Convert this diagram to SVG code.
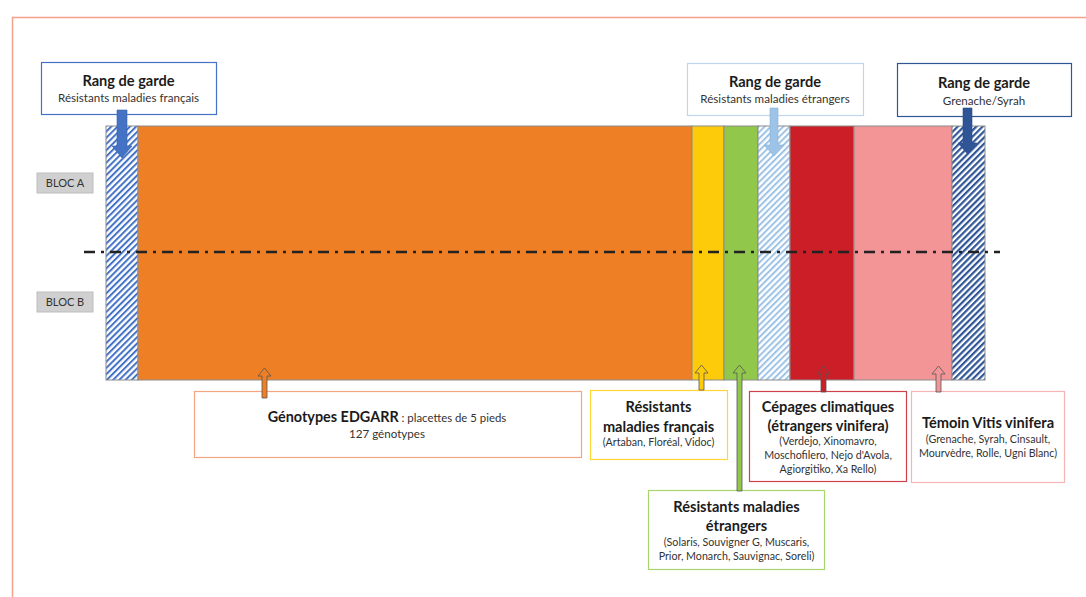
<svg xmlns="http://www.w3.org/2000/svg" width="1086" height="597" viewBox="0 0 1086 597">
<defs>
<pattern id="hatchBlue" patternUnits="userSpaceOnUse" width="4.4" height="4.4" patternTransform="rotate(45)">
<rect width="4.4" height="4.4" fill="#fff"/><rect width="2" height="4.4" fill="#4472C4"/>
</pattern>
<pattern id="hatchLight" patternUnits="userSpaceOnUse" width="4.4" height="4.4" patternTransform="rotate(45)">
<rect width="4.4" height="4.4" fill="#fff"/><rect width="2" height="4.4" fill="#9DC3E6"/>
</pattern>
<pattern id="hatchDark" patternUnits="userSpaceOnUse" width="4.4" height="4.4" patternTransform="rotate(45)">
<rect width="4.4" height="4.4" fill="#fff"/><rect width="2.2" height="4.4" fill="#2F5597"/>
</pattern>
<style>
text{font-family:Lato,"Liberation Sans",sans-serif;text-anchor:middle;fill:#1b1b1b}
.t{font-weight:bold;font-size:14.6px}
.s{font-size:11.6px;fill:#333}
.l{font-size:10.7px;fill:#333}
.box{fill:#fff;stroke-width:1.2}
.col{stroke:#8c8c8c;stroke-width:1}
.bloc{fill:#d0d0d0;stroke:#bdbdbd}
.bt{font-size:11px;fill:#333}
.up{stroke:#555;stroke-width:0.8}
</style>
</defs>
<rect x="12.5" y="17.5" width="1090" height="600" fill="#fff" stroke="#F4A08A" stroke-width="1.5"/>

<g id="strip">
<rect class="col" x="106" y="126" width="32" height="254" fill="url(#hatchBlue)"/>
<rect class="col" x="138" y="126" width="554" height="254" fill="#EF7F24"/>
<rect class="col" x="692" y="126" width="32" height="254" fill="#FECB0A"/>
<rect class="col" x="724" y="126" width="34" height="254" fill="#91C84B"/>
<rect class="col" x="758" y="126" width="32" height="254" fill="url(#hatchLight)"/>
<rect class="col" x="790" y="126" width="64" height="254" fill="#CC1E26"/>
<rect class="col" x="854" y="126" width="98" height="254" fill="#F39597"/>
<rect class="col" x="952" y="126" width="33" height="254" fill="url(#hatchDark)"/>
</g>

<g id="bloc-a"><rect class="bloc" x="37" y="173" width="56" height="20"/><text class="bt" x="65" y="187">BLOC A</text></g>
<g id="bloc-b"><rect class="bloc" x="37" y="292" width="56" height="20"/><text class="bt" x="65" y="306">BLOC B</text></g>

<g id="separator"><line x1="84" y1="252" x2="1000" y2="252" stroke="#222" stroke-width="2.4" stroke-dasharray="11,6,3,6"/></g>

<g id="garde1">
<rect class="box" x="41.5" y="62.5" width="175" height="52" stroke="#4472C4"/>
<text class="t" x="128.5" y="86">Rang de garde</text>
<text class="s" x="128.5" y="102">Résistants maladies français</text>
</g>
<g id="garde2">
<rect class="box" x="687.5" y="63.5" width="176" height="52" stroke="#BDD7EE"/>
<text class="t" x="775" y="87">Rang de garde</text>
<text class="s" x="775" y="103">Résistants maladies étrangers</text>
</g>
<g id="garde3">
<rect class="box" x="897.5" y="63.5" width="174" height="53" stroke="#2F5597"/>
<text class="t" x="984" y="88">Rang de garde</text>
<text class="s" x="984" y="105">Grenache/Syrah</text>
</g>

<g id="genotypes">
<rect class="box" x="194.5" y="391.5" width="387" height="66" stroke="#F4A582"/>
<text x="387" y="422"><tspan font-weight="bold" font-size="14.4">Génotypes EDGARR</tspan><tspan font-size="11.4" fill="#333"> : placettes de 5 pieds</tspan></text>
<text class="s" x="387" y="438">127 génotypes</text>
</g>
<g id="res-fr">
<rect class="box" x="590.5" y="390.5" width="137" height="69" stroke="#FFD633"/>
<text class="t" x="658.5" y="412">Résistants</text>
<text class="t" x="658.5" y="432">maladies français</text>
<text class="l" x="658.5" y="446">(Artaban, Floréal, Vidoc)</text>
</g>
<g id="res-etr">
<rect class="box" x="648.5" y="490.5" width="176" height="79" stroke="#A9D571"/>
<text class="t" x="736.5" y="512">Résistants maladies</text>
<text class="t" x="736.5" y="531">étrangers</text>
<text class="l" x="736.5" y="546">(Solaris, Souvigner G, Muscaris,</text>
<text class="l" x="736.5" y="560">Prior, Monarch, Sauvignac, Soreli)</text>
</g>
<g id="cepages">
<rect class="box" x="749.5" y="391.5" width="157" height="90" stroke="#D0424A"/>
<text class="t" x="828" y="412">Cépages climatiques</text>
<text class="t" x="828" y="431">(étrangers vinifera)</text>
<text class="l" x="828" y="445">(Verdejo, Xinomavro,</text>
<text class="l" x="828" y="459">Moschofilero, Nejo d'Avola,</text>
<text class="l" x="828" y="473">Agiorgitiko, Xa Rello)</text>
</g>
<g id="temoin">
<rect class="box" x="911.5" y="391.5" width="153" height="91" stroke="#F7B4B5"/>
<text class="t" x="988" y="428">Témoin Vitis vinifera</text>
<text class="l" x="988" y="443">(Grenache, Syrah, Cinsault,</text>
<text class="l" x="988" y="457">Mourvèdre, Rolle, Ugni Blanc)</text>
</g>

<g id="connectors">
<polygon points="117,110 127,110 127,146 132,146 122,158 112,146 117,146" fill="#4472C4" stroke="#3A62A8" stroke-width="0.6"/>
<polygon points="770,108 778,108 778,145 784,145 774,156 764,145 770,145" fill="#9DC3E6" stroke="#86B2D9" stroke-width="0.6"/>
<polygon points="963,108 972,108 972,143 977,143 967.5,154 958,143 963,143" fill="#2F5597" stroke="#2A4C86" stroke-width="0.6"/>
<polygon class="up" points="262,398 267,398 267,376 271,376 264.5,368 258,376 262,376" fill="#EF7F24"/>
<polygon class="up" points="699,390 704,390 704,373 708,373 701.5,365 695,373 699,373" fill="#FECB0A"/>
<polygon class="up" points="737,491 742,491 742,373 746,373 739.5,365 733,373 737,373" fill="#91C84B"/>
<polygon class="up" points="821,392 826,392 826,374 830,374 823.5,366 817,374 821,374" fill="#CC1E26"/>
<polygon class="up" points="936,392 941,392 941,374 945,374 938.5,366 932,374 936,374" fill="#F39597"/>
</g>
</svg>
